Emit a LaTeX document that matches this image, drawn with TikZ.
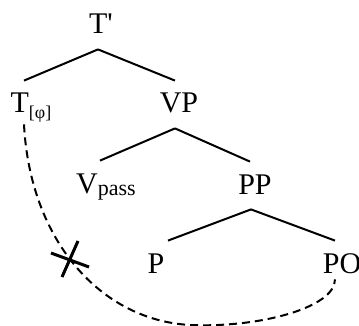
\documentclass[tikz,border=0pt]{standalone}
\usepackage{fontspec}
\setmainfont{Liberation Serif}
\usetikzlibrary{calc}

\tikzset{
  cat/.style={anchor=base,inner xsep=0pt,inner ysep=5.5pt,
    text height=10.5pt,text depth=2pt,font=\fontsize{15}{18}\selectfont},
  branch/.style={line width=1pt},
  move/.style={line width=1pt,dash pattern=on 4pt off 2.5pt},
  block/.style={line width=1.5pt}
}
\newcommand{\subsm}[1]{\raisebox{-2.5pt}{\fontsize{9}{10}\selectfont #1}}
\newcommand{\subla}[1]{\raisebox{-1.5pt}{\fontsize{11}{12}\selectfont #1}}

\begin{document}
\begin{tikzpicture}[x=0.5pt,y=-0.5pt]
      \useasboundingbox (0,0) rectangle (359,326);
      % labels, placed on their baselines
      \node[cat] (tbar)  at (101,34)  {T\textquotesingle};
      \node[cat] (tphi)  at (31,113)  {T\subsm{[φ]}};
      \node[cat] (vp)    at (179,113) {VP};
      \node[cat] (vpass) at (106,193) {V\subla{pass}};
      \node[cat] (pp)    at (255,194) {PP};
      \node[cat] (p)     at (156,273) {P};
      \node[cat] (po)    at (342,273) {PO};

      % branches
      \draw[branch] ([shift={(-3,0)}]tbar.south) -- ([shift={(-7,0)}]tphi.north);
      \draw[branch] ([shift={(-3,0)}]tbar.south) -- ([shift={(-4,0)}]vp.north);
      \draw[branch] ([shift={(-4,0)}]vp.south)   -- ([shift={(-6,0)}]vpass.north);
      \draw[branch] ([shift={(-4,0)}]vp.south)   -- ([shift={(-5,0)}]pp.north);
      \draw[branch] ([shift={(-4,0)}]pp.south)   -- ([shift={(12,0)}]p.north);
      \draw[branch] ([shift={(-4,0)}]pp.south)   -- ([shift={(-7,0)}]po.north);

      % blocked movement
      \draw[move] ([shift={(-7,-4)}]tphi.south)
        .. controls (30,240) and (100,320) .. (190,325)
        .. controls (258,328) and (335,308) .. ([shift={(-7,-9)}]po.south);
      \coordinate (x) at (69,258);
      \draw[block] ($(x)+(-18,-5)$) -- ($(x)+(20,9)$);
      \draw[block] ($(x)+(9,-17)$) -- ($(x)+(-7,19)$);
    \end{tikzpicture}
\end{document}
